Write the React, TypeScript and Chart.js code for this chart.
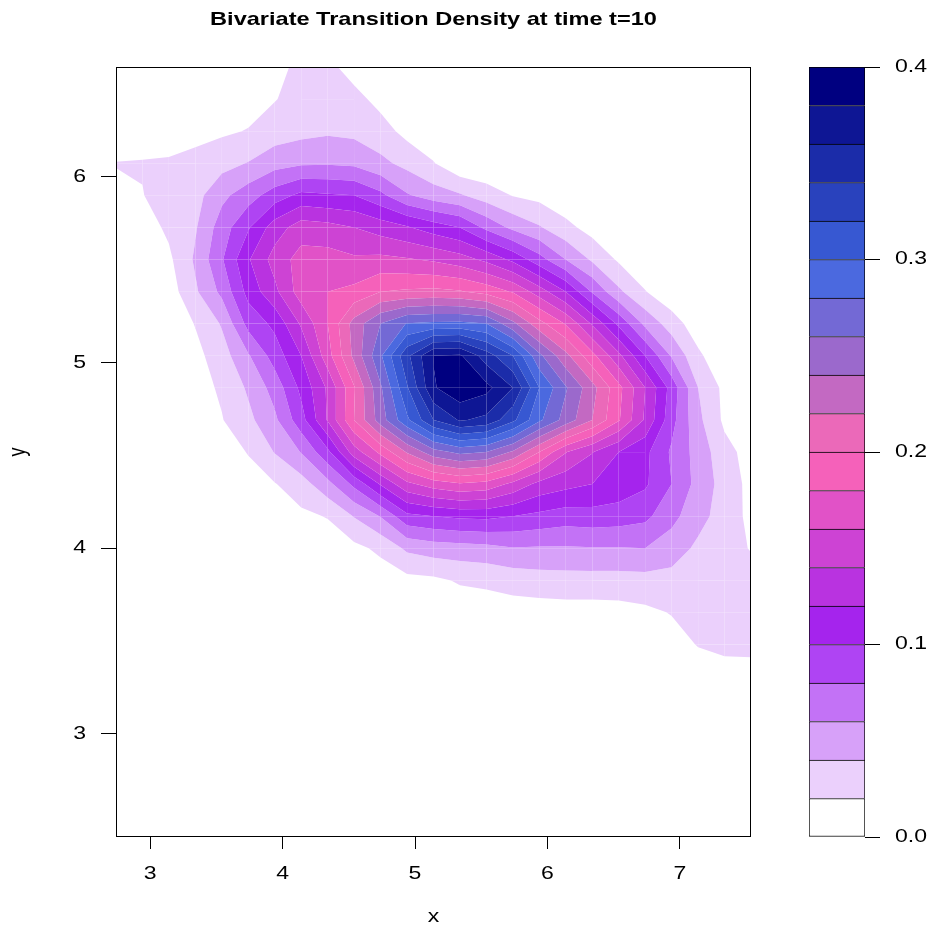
import React, { useEffect, useRef } from "react";
import { Chart, registerables } from "chart.js";

Chart.register(...registerables);

// ---------- data ----------
const xGrid = [2.743, 2.943, 3.142, 3.342, 3.542, 3.742, 3.941, 4.141, 4.341, 4.540, 4.740, 4.940, 5.140, 5.339, 5.539, 5.739, 5.938, 6.138, 6.338, 6.538, 6.737, 6.937, 7.137, 7.336, 7.536];
const yGrid = [2.445, 2.618, 2.791, 2.963, 3.136, 3.309, 3.482, 3.655, 3.827, 4.000, 4.173, 4.346, 4.518, 4.691, 4.864, 5.037, 5.210, 5.382, 5.555, 5.728, 5.901, 6.073, 6.246, 6.419, 6.592];

// densityRows[j][i] : density at (xGrid[i], yGrid[j]); j = 0 is the bottom row
const densityRows = [
  [0, 0, 0, 0, 0, 0, 0, 0, 0, 0, 0, 0, 0, 0, 0, 0, 0, 0, 0, 0, 0, 0, 0, 0, 0],
  [0, 0, 0, 0, 0, 0, 0, 0, 0, 0, 0, 0, 0, 0, 0, 0, 0, 0, 0, 0, 0, 0, 0, 0.001, 0.001],
  [0, 0, 0, 0, 0, 0, 0, 0, 0, 0, 0, 0, 0, 0, 0, 0, 0, 0, 0, 0, 0, 0, 0, 0.002, 0.002],
  [0, 0, 0, 0, 0, 0, 0, 0, 0, 0, 0, 0, 0, 0, 0, 0, 0, 0, 0, 0, 0, 0.001, 0.002, 0.004, 0.004],
  [0, 0, 0, 0, 0, 0, 0, 0, 0, 0, 0, 0, 0, 0.001, 0.001, 0.001, 0.001, 0.001, 0.001, 0.001, 0.001, 0.003, 0.005, 0.007, 0.008],
  [0, 0, 0, 0, 0, 0, 0, 0, 0, 0, 0, 0, 0.001, 0.002, 0.002, 0.002, 0.002, 0.002, 0.002, 0.002, 0.003, 0.006, 0.010, 0.013, 0.014],
  [0, 0, 0, 0, 0, 0.001, 0.001, 0.001, 0.001, 0.001, 0.002, 0.002, 0.003, 0.004, 0.005, 0.005, 0.005, 0.005, 0.005, 0.005, 0.007, 0.012, 0.021, 0.024, 0.024],
  [0, 0, 0, 0, 0.001, 0.002, 0.002, 0.002, 0.002, 0.003, 0.004, 0.006, 0.007, 0.009, 0.010, 0.011, 0.011, 0.012, 0.012, 0.013, 0.016, 0.021, 0.026, 0.028, 0.028],
  [0, 0, 0, 0, 0.002, 0.003, 0.003, 0.004, 0.005, 0.007, 0.010, 0.014, 0.016, 0.022, 0.024, 0.028, 0.031, 0.032, 0.032, 0.032, 0.033, 0.033, 0.032, 0.030, 0.027],
  [0, 0, 0, 0, 0.003, 0.004, 0.005, 0.008, 0.010, 0.015, 0.024, 0.044, 0.050, 0.052, 0.054, 0.059, 0.058, 0.058, 0.059, 0.059, 0.060, 0.050, 0.036, 0.027, 0.019],
  [0, 0, 0, 0.002, 0.004, 0.007, 0.010, 0.016, 0.021, 0.041, 0.061, 0.095, 0.100, 0.104, 0.105, 0.100, 0.095, 0.090, 0.092, 0.090, 0.085, 0.066, 0.047, 0.031, 0.015],
  [0, 0, 0.001, 0.003, 0.007, 0.012, 0.019, 0.031, 0.054, 0.085, 0.122, 0.155, 0.170, 0.178, 0.173, 0.155, 0.134, 0.126, 0.120, 0.113, 0.103, 0.080, 0.053, 0.032, 0.014],
  [0, 0.001, 0.002, 0.005, 0.011, 0.021, 0.041, 0.061, 0.095, 0.150, 0.185, 0.222, 0.252, 0.265, 0.260, 0.237, 0.200, 0.161, 0.141, 0.120, 0.105, 0.077, 0.052, 0.027, 0.012],
  [0, 0.002, 0.003, 0.008, 0.019, 0.035, 0.056, 0.092, 0.142, 0.200, 0.250, 0.296, 0.340, 0.362, 0.355, 0.325, 0.284, 0.252, 0.220, 0.182, 0.137, 0.087, 0.045, 0.016, 0.008],
  [0.001, 0.003, 0.004, 0.012, 0.023, 0.043, 0.068, 0.105, 0.143, 0.198, 0.257, 0.318, 0.378, 0.395, 0.386, 0.360, 0.300, 0.262, 0.227, 0.186, 0.140, 0.092, 0.040, 0.015, 0.008],
  [0.002, 0.003, 0.005, 0.014, 0.031, 0.058, 0.089, 0.120, 0.172, 0.225, 0.277, 0.335, 0.381, 0.383, 0.350, 0.320, 0.265, 0.226, 0.186, 0.145, 0.100, 0.058, 0.024, 0.004, 0.001],
  [0.003, 0.005, 0.006, 0.021, 0.042, 0.087, 0.105, 0.143, 0.180, 0.228, 0.260, 0.281, 0.284, 0.285, 0.280, 0.245, 0.207, 0.178, 0.137, 0.095, 0.055, 0.030, 0.008, 0.002, 0],
  [0.005, 0.006, 0.010, 0.037, 0.065, 0.107, 0.135, 0.170, 0.180, 0.185, 0.200, 0.203, 0.205, 0.202, 0.193, 0.178, 0.150, 0.120, 0.078, 0.044, 0.021, 0.005, 0.001, 0, 0],
  [0.008, 0.008, 0.016, 0.043, 0.078, 0.118, 0.148, 0.168, 0.168, 0.163, 0.165, 0.162, 0.157, 0.149, 0.135, 0.115, 0.088, 0.060, 0.037, 0.017, 0.004, 0.001, 0, 0, 0],
  [0.011, 0.010, 0.024, 0.038, 0.070, 0.098, 0.130, 0.150, 0.147, 0.140, 0.131, 0.122, 0.110, 0.100, 0.075, 0.055, 0.042, 0.026, 0.012, 0.004, 0.001, 0, 0, 0, 0],
  [0.017, 0.0195, 0.027, 0.033, 0.055, 0.071, 0.090, 0.105, 0.102, 0.100, 0.085, 0.062, 0.050, 0.042, 0.030, 0.019, 0.014, 0.005, 0.002, 0.001, 0, 0, 0, 0, 0],
  [0.0205, 0.021, 0.022, 0.025, 0.033, 0.041, 0.052, 0.057, 0.058, 0.056, 0.045, 0.034, 0.021, 0.004, 0.003, 0.002, 0.001, 0, 0, 0, 0, 0, 0, 0, 0],
  [0.011, 0.012, 0.012, 0.015, 0.017, 0.021, 0.030, 0.034, 0.037, 0.035, 0.028, 0.014, 0.007, 0.002, 0.001, 0, 0, 0, 0, 0, 0, 0, 0, 0, 0],
  [0.006, 0.008, 0.009, 0.010, 0.012, 0.012, 0.019, 0.028, 0.032, 0.026, 0.014, 0.006, 0.003, 0.001, 0, 0, 0, 0, 0, 0, 0, 0, 0, 0, 0],
  [0.004, 0.005, 0.006, 0.007, 0.008, 0.008, 0.014, 0.025, 0.025, 0.012, 0.005, 0.002, 0.001, 0, 0, 0, 0, 0, 0, 0, 0, 0, 0, 0, 0],
];

const levels = [0, 0.02, 0.04, 0.06, 0.08, 0.10, 0.12, 0.14, 0.16, 0.18, 0.20, 0.22, 0.24, 0.26, 0.28, 0.30, 0.32, 0.34, 0.36, 0.38, 0.40];
const bandColors = [
  "#FFFFFF", "#EBD0FC", "#D7A1F9", "#C372F6", "#AF44F3",
  "#A524ED", "#B933E0", "#CD43D4", "#E152C7", "#F561BA",
  "#EB69B9", "#C369C2", "#9B69CC", "#7369D5", "#4B69DF",
  "#3758D2", "#2942BD", "#1B2CA9", "#0E1694", "#000080",
];
const xTicks = [3, 4, 5, 6, 7];
const yTicks = [3, 4, 5, 6];
const barTicks = [0, 0.1, 0.2, 0.3, 0.4];
const barTickLabels = ["0.0", "0.1", "0.2", "0.3", "0.4"];
const titleText = "Bivariate Transition Density at time t=10";
const xLabel = "x";
const yLabel = "y";

// ---------- styling ----------
const FONT = '"Liberation Sans", Arial, Helvetica, sans-serif';
const STRETCH = 1.28;
const LABEL_FONT = `18px ${FONT}`;

function drawText(
  ctx: CanvasRenderingContext2D, text: string, x: number, y: number, font: string,
  align: CanvasTextAlign = "center", rotated = false,
) {
  ctx.save();
  ctx.translate(x, y);
  if (rotated) {
    ctx.rotate(-Math.PI / 2);
    ctx.scale(1, STRETCH);
  } else {
    ctx.scale(STRETCH, 1);
  }
  ctx.font = font;
  ctx.fillStyle = "#000";
  ctx.textAlign = align;
  ctx.textBaseline = "middle";
  ctx.fillText(text, 0, 0);
  ctx.restore();
}

const contourPlugin = {
  id: "filledContour",
  beforeDatasetsDraw(chart: any) {
    const { ctx, chartArea, scales } = chart;
    const xs = xGrid.map((v) => scales.x.getPixelForValue(v));
    const ys = yGrid.map((v) => scales.y.getPixelForValue(v));
    ctx.save();
    ctx.beginPath();
    ctx.rect(chartArea.left, chartArea.top, chartArea.right - chartArea.left, chartArea.bottom - chartArea.top);
    ctx.clip();
    const nb = levels.length - 1;
    for (let j = 0; j < yGrid.length - 1; j++) {
      for (let i = 0; i < xGrid.length - 1; i++) {
        const c = [
          [xs[i], ys[j], densityRows[j][i]],
          [xs[i + 1], ys[j], densityRows[j][i + 1]],
          [xs[i + 1], ys[j + 1], densityRows[j + 1][i + 1]],
          [xs[i], ys[j + 1], densityRows[j + 1][i]],
        ];
        const zs = c.map((p) => p[2]);
        const zmin = Math.min(...zs);
        const zmax = Math.max(...zs);
        for (let k = 0; k < nb; k++) {
          const lo = levels[k];
          const hi = levels[k + 1];
          const top = k === nb - 1;
          if (zmax < lo) continue;
          if (!top && zmin >= hi) continue;
          const inBand = (z: number) => z >= lo && (top ? z <= hi : z < hi);
          const pts: number[][] = [];
          for (let e = 0; e < 4; e++) {
            const a = c[e];
            const b = c[(e + 1) % 4];
            if (inBand(a[2])) pts.push([a[0], a[1]]);
            const ts: number[] = [];
            const ls = top ? [lo] : [lo, hi];
            for (const L of ls) {
              if ((a[2] < L) !== (b[2] < L)) ts.push((L - a[2]) / (b[2] - a[2]));
            }
            ts.sort((p, q) => p - q);
            for (const t of ts) pts.push([a[0] + t * (b[0] - a[0]), a[1] + t * (b[1] - a[1])]);
          }
          if (pts.length >= 3) {
            ctx.beginPath();
            ctx.moveTo(pts[0][0], pts[0][1]);
            for (let p = 1; p < pts.length; p++) ctx.lineTo(pts[p][0], pts[p][1]);
            ctx.closePath();
            ctx.fillStyle = bandColors[k];
            ctx.fill();
          }
        }
      }
    }
    ctx.restore();
  },
  afterDatasetsDraw(chart: any) {
    const { ctx, chartArea } = chart;
    ctx.save();
    ctx.strokeStyle = "#000";
    ctx.lineWidth = 1;
    ctx.strokeRect(Math.round(chartArea.left) + 0.5, Math.round(chartArea.top) + 0.5,
      Math.round(chartArea.right - chartArea.left) - 1, Math.round(chartArea.bottom - chartArea.top) - 1);
    ctx.restore();
  },
  afterDraw(chart: any) {
    const { ctx, chartArea, scales } = chart;
    const cx = (chartArea.left + chartArea.right) / 2;
    const cy = (chartArea.top + chartArea.bottom) / 2;
    for (const v of xTicks) drawText(ctx, String(v), scales.x.getPixelForValue(v), chartArea.bottom + 37, LABEL_FONT, "center");
    for (const v of yTicks) drawText(ctx, String(v), chartArea.left - 30, scales.y.getPixelForValue(v), LABEL_FONT, "right");
    drawText(ctx, titleText, cx, 20, `bold 18.4px ${FONT}`);
    drawText(ctx, xLabel, cx, 917, LABEL_FONT);
    drawText(ctx, yLabel, 19, cy, LABEL_FONT, "center", true);
  },
};

const colorbarLabelPlugin = {
  id: "colorbarLabels",
  afterDraw(chart: any) {
    const { ctx, chartArea, scales } = chart;
    barTicks.forEach((v, k) => {
      drawText(ctx, barTickLabels[k], chartArea.right + 30, scales.y.getPixelForValue(v), LABEL_FONT, "left");
    });
  },
};

export default function App() {
  const mainRef = useRef<HTMLCanvasElement>(null);
  const barRef = useRef<HTMLCanvasElement>(null);

  useEffect(() => {
    if (!mainRef.current || !barRef.current) return;

    const main = new Chart(mainRef.current, {
      type: "scatter",
      data: { datasets: [{ data: [], pointRadius: 0 }] },
      options: {
        responsive: false,
        animation: false,
        devicePixelRatio: 1,
        events: [],
        layout: { padding: { left: 0, top: 67, right: 182, bottom: 0 } },
        plugins: { legend: { display: false }, tooltip: { enabled: false }, title: { display: false } },
        scales: {
          x: {
            type: "linear",
            min: xGrid[0],
            max: xGrid[xGrid.length - 1],
            afterBuildTicks: (s: any) => { s.ticks = xTicks.map((v) => ({ value: v })); },
            afterFit: (s: any) => { s.height = 96; },
            grid: { display: true, drawOnChartArea: false, drawTicks: true, tickLength: 12, tickColor: "#000", color: "#000" },
            border: { display: false },
            ticks: { display: false },
          },
          y: {
            type: "linear",
            min: yGrid[0],
            max: yGrid[yGrid.length - 1],
            afterBuildTicks: (s: any) => { s.ticks = yTicks.map((v) => ({ value: v })); },
            afterFit: (s: any) => { s.width = 116; },
            grid: { display: true, drawOnChartArea: false, drawTicks: true, tickLength: 15, tickColor: "#000", color: "#000" },
            border: { display: false },
            ticks: { display: false },
          },
        },
      },
      plugins: [contourPlugin],
    } as any);

    const bar = new Chart(barRef.current, {
      type: "bar",
      data: {
        labels: [""],
        datasets: levels.slice(0, -1).map((lo, k) => ({
          data: [[lo, levels[k + 1]]],
          backgroundColor: bandColors[k],
          borderColor: "#000",
          borderWidth: k === 0 ? 1 : { top: 1, left: 1, right: 1, bottom: 0 },
          borderSkipped: false,
          grouped: false,
          barPercentage: 1,
          categoryPercentage: 1,
        })),
      },
      options: {
        responsive: false,
        animation: false,
        devicePixelRatio: 1,
        events: [],
        layout: { padding: { left: 809, top: 67, right: 0, bottom: 96 } },
        plugins: { legend: { display: false }, tooltip: { enabled: false } },
        scales: {
          x: { display: false },
          y: {
            position: "right",
            min: 0,
            max: 0.4,
            afterBuildTicks: (s: any) => { s.ticks = barTicks.map((v) => ({ value: v })); },
            afterFit: (s: any) => { s.width = 68; },
            grid: { display: true, drawOnChartArea: false, drawTicks: true, tickLength: 15, tickColor: "#000", color: "#000" },
            border: { display: false },
            ticks: { display: false },
          },
        },
      },
      plugins: [colorbarLabelPlugin],
    } as any);

    return () => {
      main.destroy();
      bar.destroy();
    };
  }, []);

  return (
    <div style={{ position: "absolute", left: 0, top: 0, width: 933, height: 933, background: "#fff" }}>
      <canvas ref={mainRef} width={933} height={933} style={{ position: "absolute", left: 0, top: 0 }} />
      <canvas ref={barRef} width={933} height={933} style={{ position: "absolute", left: 0, top: 0 }} />
    </div>
  );
}
